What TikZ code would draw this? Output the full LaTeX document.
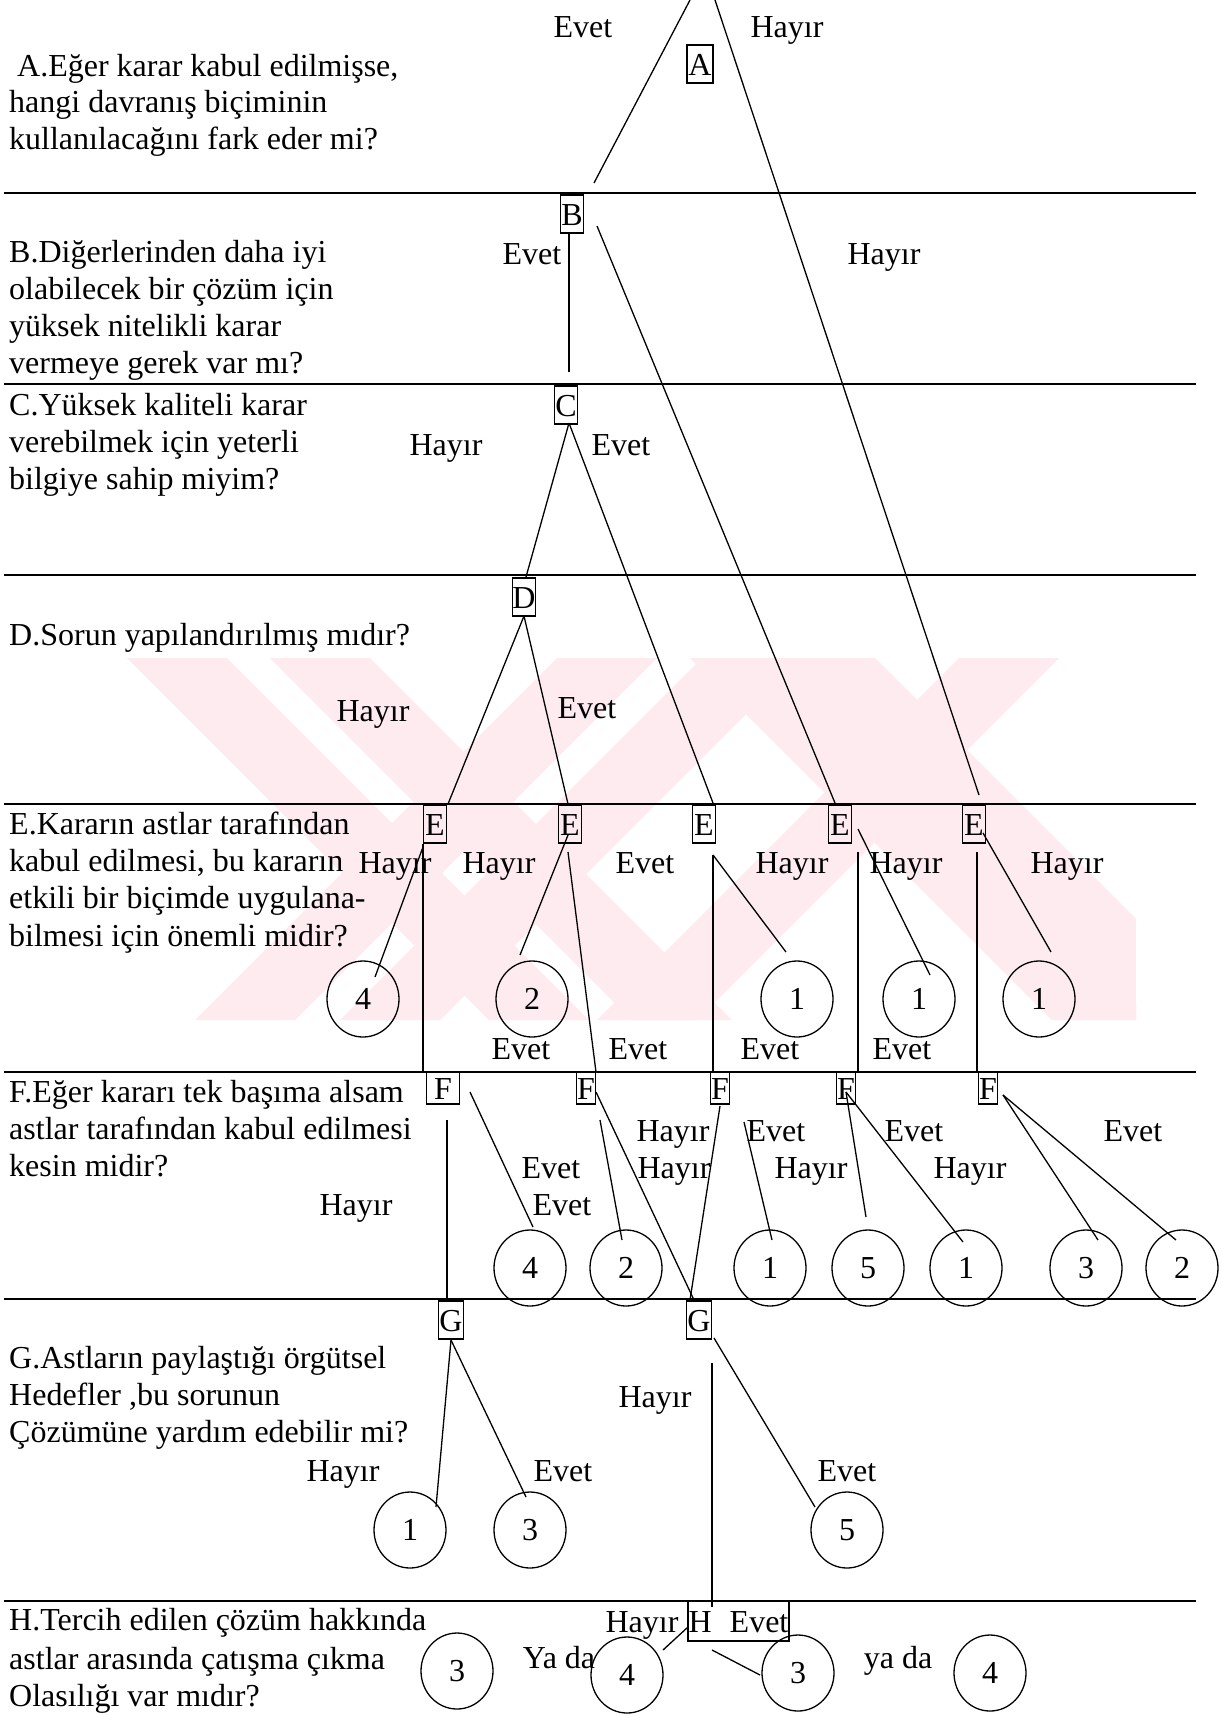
\documentclass[tikz,border=0pt]{standalone}
\usepackage{fontspec}
\setmainfont{Liberation Serif}
\usetikzlibrary{shapes.geometric}
\definecolor{wmpink}{HTML}{FDEBF0}
\tikzset{
  big/.style={font=\fontsize{32}{36}\selectfont},
  txt/.style={big, anchor=base west, inner sep=0pt},
  lbl/.style={big, anchor=base, inner sep=0pt},
  letter/.style={big, draw, line width=1.1pt, inner sep=0pt, minimum width=23pt,
    minimum height=38pt, text height=22pt, text depth=0pt},
  outcome/.style={big, draw, ellipse, line width=1.3pt, inner sep=0pt,
    minimum width=72pt, minimum height=76pt},
  rule/.style={line width=1.8pt},
  branch/.style={line width=1.3pt},
}
\begin{document}
\begin{tikzpicture}[x=1pt,y=-1pt]
\path[use as bounding box, fill=white] (0,0) rectangle (1222,1716);

% pale background emblem
\begin{scope}
  \clip (120,658) rectangle (1136,1020);
  \foreach \s in {127,270,690,775}
    \fill[wmpink] (\s,658) -- (\s+100,658) -- (\s+462,1020) -- (\s+362,1020) -- cycle;
  \foreach \s in {195,340,597}
    \fill[wmpink] (\s,1020) -- (\s+100,1020) -- (\s+462,658) -- (\s+362,658) -- cycle;
\end{scope}

% horizontal separators
\foreach \y in {193,384,575,804,1072,1299,1601}
  \draw[rule] (4,\y) -- (1196,\y);

% questions
\node[txt] at (17,76) {A.Eğer karar kabul edilmişse,};
\node[txt] at (9,112) {hangi davranış biçiminin};
\node[txt] at (9,149) {kullanılacağını fark eder mi?};
\node[txt] at (9,262) {B.Diğerlerinden daha iyi};
\node[txt] at (9,299) {olabilecek bir çözüm için};
\node[txt] at (9,336) {yüksek nitelikli karar};
\node[txt] at (9,373) {vermeye gerek var mı?};
\node[txt] at (9,415) {C.Yüksek kaliteli karar};
\node[txt] at (9,452) {verebilmek için yeterli};
\node[txt] at (9,489) {bilgiye sahip miyim?};
\node[txt] at (9,645) {D.Sorun yapılandırılmış mıdır?};
\node[txt] at (9,834) {E.Kararın astlar tarafından};
\node[txt] at (9,871) {kabul edilmesi, bu kararın};
\node[txt] at (9,908) {etkili bir biçimde uygulana-};
\node[txt] at (9,946) {bilmesi için önemli midir?};
\node[txt] at (9,1102) {F.Eğer kararı tek başıma alsam};
\node[txt] at (9,1139) {astlar tarafından kabul edilmesi};
\node[txt] at (9,1176) {kesin midir?};
\node[txt] at (9,1368) {G.Astların paylaştığı örgütsel};
\node[txt] at (9,1405) {Hedefler ,bu sorunun};
\node[txt] at (9,1442) {Çözümüne yardım edebilir mi?};
\node[txt] at (9,1630) {H.Tercih edilen çözüm hakkında};
\node[txt] at (9,1669) {astlar arasında çatışma çıkma};
\node[txt] at (9,1706) {Olasılığı var mıdır?};

% decision boxes
\node[letter, minimum width=26pt] (A) at (700,64) {A};
\node[letter] (B) at (572,214) {B};
\node[letter] (C) at (566,405) {C};
\node[letter] (D) at (524,597) {D};
\node[letter] (E1) at (435,824) {E};
\node[letter] (E2) at (570,824) {E};
\node[letter] (E3) at (704,824) {E};
\node[letter] (E4) at (840,824) {E};
\node[letter] (E5) at (974,824) {E};
\node[letter, minimum width=33pt, minimum height=32pt] (F1) at (443,1088) {F};
\node[letter, minimum width=19pt, minimum height=32pt] (F2) at (586,1088) {F};
\node[letter, minimum width=19pt, minimum height=32pt] (F3) at (720,1088) {F};
\node[letter, minimum width=19pt, minimum height=32pt] (F4) at (846,1088) {F};
\node[letter, minimum width=19pt, minimum height=32pt] (F5) at (988,1088) {F};
\node[letter, minimum width=25pt] (G1) at (451,1320) {G};
\node[letter, minimum width=25pt] (G2) at (699,1320) {G};
\node[letter, minimum width=101pt, minimum height=40pt] (H) at (738.5,1621) {H\hspace{18pt}Evet};

% outcome circles
\node[outcome] (oE1) at (363,999) {4};
\node[outcome] (oE2) at (532,999) {2};
\node[outcome] (oE3) at (797,999) {1};
\node[outcome] (oE4) at (919,999) {1};
\node[outcome] (oE5) at (1039,999) {1};
\node[outcome] (oF1) at (530,1268) {4};
\node[outcome] (oF2) at (626,1268) {2};
\node[outcome] (oF3) at (770,1268) {1};
\node[outcome] (oF4) at (868,1268) {5};
\node[outcome] (oF5) at (966,1268) {1};
\node[outcome] (oF6) at (1086,1268) {3};
\node[outcome] (oF7) at (1182,1268) {2};
\node[outcome] (oG1) at (410,1530) {1};
\node[outcome] (oG2) at (530,1530) {3};
\node[outcome] (oG3) at (847,1530) {5};
\node[outcome] (oH1) at (457,1671) {3};
\node[outcome] (oH2) at (627,1675) {4};
\node[outcome] (oH3) at (798,1673) {3};
\node[outcome] (oH4) at (990,1673) {4};

% branch end points
\coordinate (aL) at (690,0);
\coordinate (aR) at (715,0);
\coordinate (bIn) at (594,183);
\coordinate (e5In) at (979,795);
\coordinate (bDown) at (569,233);
\coordinate (bEnd) at (569,372);
\coordinate (bOut) at (597,226);
\coordinate (e4In) at (835,803);
\coordinate (cOut) at (569,423);
\coordinate (dIn) at (526,577);
\coordinate (e3In) at (713,803);
\coordinate (dOut) at (524,616);
\coordinate (e1In) at (448,804);
\coordinate (e2In) at (568,804);
\coordinate (e1Out) at (423,847);
\coordinate (e1End) at (375,977);
\coordinate (e2Out) at (568,835);
\coordinate (e2End) at (520,955);
\coordinate (e2Down) at (568,852);
\coordinate (f2In) at (596,1072);
\coordinate (e3Out) at (713,855);
\coordinate (e3End) at (786,952);
\coordinate (e4Out) at (858,829);
\coordinate (e4Down) at (858,852);
\coordinate (e4End) at (930,975);
\coordinate (e5Out) at (983,833);
\coordinate (e5Down) at (977,852);
\coordinate (e5End) at (1051,952);
\coordinate (f1Down) at (447,1120);
\coordinate (g1In) at (447,1300);
\coordinate (f1Out) at (470,1092);
\coordinate (f1End) at (533,1227);
\coordinate (f2Out) at (600,1120);
\coordinate (f2End) at (622,1240);
\coordinate (f2Side) at (596,1092);
\coordinate (g2In) at (694,1300);
\coordinate (f3Out) at (720,1106);
\coordinate (g2InB) at (690,1300);
\coordinate (f3Side) at (744,1122);
\coordinate (f3End) at (772,1240);
\coordinate (f4Out) at (846,1092);
\coordinate (f4EndA) at (866,1217);
\coordinate (f4EndB) at (963,1242);
\coordinate (f5Out) at (1003,1095);
\coordinate (f5EndA) at (1098,1240);
\coordinate (f5EndB) at (1176,1240);
\coordinate (g1Out) at (451,1340);
\coordinate (g1EndA) at (436,1507);
\coordinate (g1EndB) at (526,1497);
\coordinate (g2Out) at (714,1338);
\coordinate (g2End) at (815,1507);
\coordinate (g2Down) at (712,1363);
\coordinate (hIn) at (712,1607);
\coordinate (hOutA) at (688,1627);
\coordinate (hEndA) at (663,1650);
\coordinate (hOutB) at (712,1650);
\coordinate (hEndB) at (760,1675);

% branches
\draw[branch] (aL) -- (bIn);
\draw[branch] (aR) -- (e5In);
\draw[branch] (bDown) -- (bEnd);
\draw[branch] (bOut) -- (e4In);
\draw[branch] (cOut) -- (dIn);
\draw[branch] (cOut) -- (e3In);
\draw[branch] (dOut) -- (e1In);
\draw[branch] (dOut) -- (e2In);
\draw[branch] (e1Out) -- (e1End);
\draw[branch] (E1.south west) -- (E1.south west |- F1.north);
\draw[branch] (e2Out) -- (e2End);
\draw[branch] (e2Down) -- (f2In);
\draw[branch] (e3Out) -- (e3Out |- F3.north);
\draw[branch] (e3Out) -- (e3End);
\draw[branch] (e4Down) -- (e4Down |- F4.north);
\draw[branch] (e4Out) -- (e4End);
\draw[branch] (e5Down) -- (e5Down |- F5.north);
\draw[branch] (e5Out) -- (e5End);
\draw[branch] (f1Down) -- (g1In);
\draw[branch] (f1Out) -- (f1End);
\draw[branch] (f2Out) -- (f2End);
\draw[branch] (f2Side) -- (g2In);
\draw[branch] (f3Out) -- (g2InB);
\draw[branch] (f3Side) -- (f3End);
\draw[branch] (f4Out) -- (f4EndA);
\draw[branch] (f4Out) -- (f4EndB);
\draw[branch] (f5Out) -- (f5EndA);
\draw[branch] (f5Out) -- (f5EndB);
\draw[branch] (g1Out) -- (g1EndA);
\draw[branch] (g1Out) -- (g1EndB);
\draw[branch] (g2Out) -- (g2End);
\draw[branch] (g2Down) -- (hIn);
\draw[branch] (hOutA) -- (hEndA);
\draw[branch] (hOutB) -- (hEndB);

% answer labels
\node[lbl] at (583,37) {Evet};
\node[lbl] at (787,37) {Hayır};
\node[lbl] at (532,264) {Evet};
\node[lbl] at (884,264) {Hayır};
\node[lbl] at (446,455) {Hayır};
\node[lbl] at (621,455) {Evet};
\node[lbl] at (373,721) {Hayır};
\node[lbl] at (587,718) {Evet};
\node[lbl] at (395,873) {Hayır};
\node[lbl] at (499,873) {Hayır};
\node[lbl] at (645,873) {Evet};
\node[lbl] at (792,873) {Hayır};
\node[lbl] at (906,873) {Hayır};
\node[lbl] at (1067,873) {Hayır};
\node[lbl] at (521,1059) {Evet};
\node[lbl] at (638,1059) {Evet};
\node[lbl] at (770,1059) {Evet};
\node[lbl] at (902,1059) {Evet};
\node[lbl] at (673,1141) {Hayır};
\node[lbl] at (776,1141) {Evet};
\node[lbl] at (914,1141) {Evet};
\node[lbl] at (1133,1141) {Evet};
\node[lbl] at (551,1178) {Evet};
\node[lbl] at (674,1178) {Hayır};
\node[lbl] at (811,1178) {Hayır};
\node[lbl] at (970,1178) {Hayır};
\node[lbl] at (562,1215) {Evet};
\node[lbl] at (356,1215) {Hayır};
\node[lbl] at (655,1407) {Hayır};
\node[lbl] at (343,1481) {Hayır};
\node[lbl] at (563,1481) {Evet};
\node[lbl] at (847,1481) {Evet};
\node[lbl] at (642,1632) {Hayır};
\node[lbl] at (559,1668) {Ya da};
\node[lbl] at (898,1668) {ya da};
\end{tikzpicture}
\end{document}
